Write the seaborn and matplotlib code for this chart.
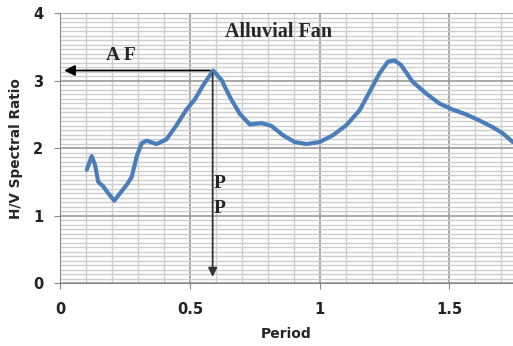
import numpy as np
import pandas as pd
import matplotlib
matplotlib.use("Agg")
import matplotlib.pyplot as plt
import seaborn as sns
from matplotlib.ticker import MultipleLocator

period = [0.103, 0.122, 0.135, 0.147, 0.167, 0.186, 0.209, 0.231, 0.256, 0.276,
          0.295, 0.314, 0.333, 0.372, 0.410, 0.449, 0.487, 0.519, 0.551, 0.590,
          0.622, 0.654, 0.692, 0.731, 0.776, 0.814, 0.859, 0.904, 0.949, 1.000,
          1.051, 1.103, 1.154, 1.192, 1.231, 1.263, 1.288, 1.314, 1.359, 1.410,
          1.462, 1.513, 1.564, 1.615, 1.667, 1.705, 1.744]
hv_ratio = [1.68, 1.88, 1.75, 1.50, 1.43, 1.33, 1.22, 1.33, 1.45, 1.57,
            1.87, 2.07, 2.11, 2.06, 2.13, 2.34, 2.57, 2.72, 2.93, 3.15,
            3.01, 2.76, 2.51, 2.35, 2.37, 2.33, 2.19, 2.09, 2.06, 2.09,
            2.19, 2.34, 2.56, 2.83, 3.11, 3.28, 3.30, 3.23, 2.98, 2.81,
            2.66, 2.57, 2.50, 2.41, 2.31, 2.22, 2.09]

peak_period = 0.588
peak_ratio = 3.15

df = pd.DataFrame({"Period": period, "H/V Spectral Ratio": hv_ratio})

sns.set_style("white")
fig = plt.figure(figsize=(5.13, 3.46), dpi=100)
ax = fig.add_axes([0.117, 0.182, 0.883, 0.780])

sns.lineplot(data=df, x="Period", y="H/V Spectral Ratio", ax=ax,
             color="#4a7ebb", linewidth=3, zorder=3)
ax.lines[0].set_solid_joinstyle("round")
ax.lines[0].set_solid_capstyle("round")

ax.set_xlim(0, 1.745)
ax.set_ylim(0, 4)
ax.xaxis.set_minor_locator(MultipleLocator(0.1))
ax.yaxis.set_major_locator(MultipleLocator(1))
ax.yaxis.set_minor_locator(MultipleLocator(1 / 15))
ax.set_xticks([0, 0.5, 1, 1.5])
ax.set_xticklabels(["0", "0.5", "1", "1.5"])
ax.grid(which="major", color="#999999", linewidth=1.2, zorder=0)
ax.grid(which="minor", color="#cdcdcd", linewidth=1.0, zorder=0)
ax.set_axisbelow(True)

for s in ["top", "right"]:
    ax.spines[s].set_visible(False)
ax.spines["left"].set_color("#888888")
ax.spines["bottom"].set_color("#888888")
ax.tick_params(axis="both", which="major", labelsize=10.5, length=4,
               color="#888888", direction="out", left=True, bottom=True)
ax.tick_params(which="minor", length=0)
for lbl in ax.get_xticklabels() + ax.get_yticklabels():
    lbl.set_fontweight("bold")
    lbl.set_color("#222222")
ax.xaxis.set_tick_params(pad=10)
ax.yaxis.set_tick_params(pad=8)

ax.set_xlabel("Period", fontsize=10, fontweight="bold", labelpad=7)
ax.set_ylabel("H/V Spectral Ratio", fontsize=9.8, fontweight="bold", labelpad=7)

# arrows
ax.annotate("", xy=(0.005, peak_ratio), xytext=(peak_period, peak_ratio),
            arrowprops=dict(arrowstyle="-|>", color="black", lw=1.3,
                            mutation_scale=16), zorder=4)
ax.annotate("", xy=(peak_period, 0.05), xytext=(peak_period, peak_ratio),
            arrowprops=dict(arrowstyle="-|>", color="#333333", lw=1.3,
                            mutation_scale=13), zorder=4)

serif = ["Liberation Serif", "DejaVu Serif"]
ax.text(0.84, 3.72, "Alluvial Fan", fontsize=14.5, fontweight="bold",
        family=serif, ha="center", va="center")
ax.text(0.235, 3.37, "A F", fontsize=14, fontweight="bold",
        family=serif, ha="center", va="center")
ax.text(0.615, 1.48, "P", fontsize=14, fontweight="bold",
        family=serif, ha="center", va="center")
ax.text(0.615, 1.11, "P", fontsize=14, fontweight="bold",
        family=serif, ha="center", va="center")

fig.savefig("out.png", dpi=100)
